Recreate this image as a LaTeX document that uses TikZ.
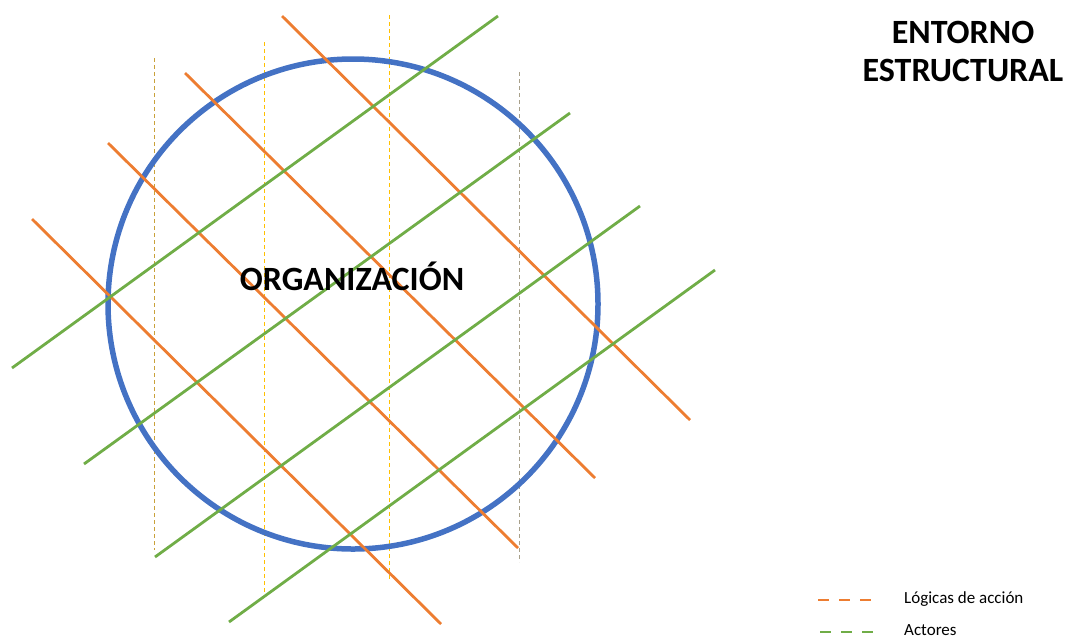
\documentclass[tikz,border=0pt]{standalone}
\usepackage{fontspec}
\setmainfont{Carlito}
\usepackage{tikz}
\definecolor{orgblue}{HTML}{4472C4}
\definecolor{logorange}{HTML}{ED7D31}
\definecolor{actgreen}{HTML}{70AD47}
\definecolor{gridgold}{HTML}{FFC000}
\definecolor{gridbrown}{HTML}{C9A13A}
\definecolor{gridgray}{HTML}{A8A08A}
\begin{document}
\begin{tikzpicture}[x=1pt,y=-1pt]
\tikzstyle{every node}+=[inner sep=0pt]
\tikzstyle{logica}=[logorange, line width=2.8pt]
\tikzstyle{actor}=[actgreen, line width=2.8pt]
\tikzstyle{guia}=[dash pattern=on 4pt off 3pt, line width=0.9pt]
\useasboundingbox (0,0) rectangle (1067,638);
% vertical guides
\draw [guia, gridbrown] (154,58) -- (154,550);
\draw [guia, gridgold] (264,42) -- (264,598);
\draw [guia, gridgold] (389,15) -- (389,580);
\draw [guia, gridgray] (519,72) -- (519,562);
% organization
\draw [orgblue, line width=5.5pt] (353,304) circle (245);
% logics of action
\draw [logica] (282,16) -- (690,420);
\draw [logica] (185,73) -- (595,478);
\draw [logica] (108,143) -- (518,548);
\draw [logica] (32,219) -- (441,624);
% actors
\draw [actor] (12,368) -- (498,16);
\draw [actor] (84,464) -- (570,113);
\draw [actor] (155,557) -- (640,206);
\draw [actor] (229,622) -- (715,270);
% labels
\node (org) at (352,276) [font=\fontsize{34}{34}\selectfont\bfseries] {ORGANIZACIÓN};
\node (entorno) at (963,51) [align=center, font=\fontsize{34}{38}\selectfont\bfseries] {ENTORNO\\ESTRUCTURAL};
% legend
\coordinate (la) at (818,600);
\coordinate (lb) at (875,600);
\coordinate (aa) at (820,632);
\coordinate (ab) at (877,632);
\draw [logorange, line width=2.8pt, dash pattern=on 11pt off 10pt] (la) -- (lb);
\draw [actgreen, line width=2.8pt, dash pattern=on 11pt off 10pt] (aa) -- (ab);
\node (llog) at (904,599) [anchor=west, font=\fontsize{17}{17}\selectfont] {Lógicas de acción};
\node (lact) at (904,630) [anchor=west, font=\fontsize{17}{17}\selectfont] {Actores};
\end{tikzpicture}
\end{document}
